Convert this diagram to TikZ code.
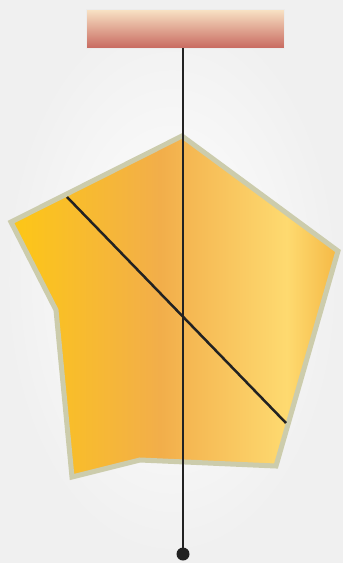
\documentclass[tikz,border=0pt]{standalone}
\usetikzlibrary{shadings}
\definecolor{plateyellow}{RGB}{253,199,22}
\definecolor{plateorange}{RGB}{242,174,74}
\definecolor{platelight}{RGB}{254,218,112}
\definecolor{plateedge}{RGB}{245,184,68}
\definecolor{platerim}{RGB}{204,204,172}
\definecolor{barlight}{RGB}{249,228,198}
\definecolor{barred}{RGB}{200,106,96}
\definecolor{rodcolor}{RGB}{34,34,34}
\pgfdeclarehorizontalshading{plateshade}{100bp}{color(0bp)=(plateyellow); color(25bp)=(plateyellow); color(47.8bp)=(plateorange); color(67.2bp)=(platelight); color(75bp)=(plateedge); color(100bp)=(plateedge)}
\tikzstyle{plate} = [draw=platerim, line width=5pt, shading=plateshade]
\tikzstyle{ceiling} = [rectangle, minimum width=198pt, minimum height=39pt, inner sep=0pt, top color=barlight, bottom color=barred, draw=gray!15]
\tikzstyle{pivot} = [circle, minimum size=13pt, inner sep=0pt, fill=rodcolor]
\tikzstyle{rod} = [line width=2.5pt, draw=rodcolor]

\begin{document}
\begin{tikzpicture}[x=1pt, y=-1pt]
    \fill[inner color=white, outer color=gray!12] (0,0) rectangle (343,563);
    \useasboundingbox (0,0) rectangle (343,563);

    \node (bar) [ceiling] at (185,28.5) {};
    \node (bob) [pivot] at (183,554) {};

    \path[plate] (182,136) -- (338,251) -- (276,466) -- (140,460) -- (72,477) -- (56,310) -- (11,222) -- cycle;

    \coordinate (lineA) at (67,197);
    \coordinate (lineB) at (286,423);

    \draw [rod] (lineA) -- (lineB);
    \draw [rod] (bob |- bar.south) -- (bob.center);
\end{tikzpicture}
\end{document}
